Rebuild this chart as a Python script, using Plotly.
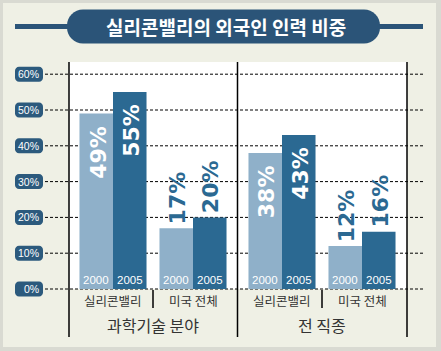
import plotly.graph_objects as go

# ---------------- data ----------------
title_text = "실리콘밸리의 외국인 인력 비중"
sections = ["과학기술 분야", "전 직종"]
subgroups = ["실리콘밸리", "미국 전체"]
years = ["2000", "2005"]
values_2000 = [49, 17, 38, 12]
values_2005 = [55, 20, 43, 16]
y_ticks = [0, 10, 20, 30, 40, 50, 60]
y_tick_labels = ["0%", "10%", "20%", "30%", "40%", "50%", "60%"]

# ---------------- style ----------------
FIG_W, FIG_H = 441, 351
L, R, T, B = 69, 407, 62, 289          # plot-area pixel box
PW, PH = R - L, B - T
PX_PER_UNIT = 80.0
X_START = -0.55
SECTION_GAP = 0.1125
BW = 0.419
YMAX = PH / 3.58

CREAM = "#eff0e5"
BORDER = "#d9dad2"
NAVY = "#2b5478"
PILL = "#2c5a7d"
LIGHT = "#8fb0c9"
DARK = "#2b6992"
TXT = "#333333"
KR = "Noto Sans CJK KR"


def px_x(px):
    return (px - L) / PW


def px_y(py):
    return (B - py) / PH


def val_y(v):
    # value -> paper fraction along the linear y axis [0, YMAX]
    return v / YMAX


def rounded(hw, hh, r):
    k = 0.5523 * r
    f = lambda v: f"{v:.2f}"
    return (f"M {f(-hw + r)},{f(-hh)} L {f(hw - r)},{f(-hh)} "
            f"C {f(hw - r + k)},{f(-hh)} {f(hw)},{f(-hh + r - k)} {f(hw)},{f(-hh + r)} "
            f"L {f(hw)},{f(hh - r)} C {f(hw)},{f(hh - r + k)} {f(hw - r + k)},{f(hh)} {f(hw - r)},{f(hh)} "
            f"L {f(-hw + r)},{f(hh)} C {f(-hw + r - k)},{f(hh)} {f(-hw)},{f(hh - r + k)} {f(-hw)},{f(hh - r)} "
            f"L {f(-hw)},{f(-hh + r)} C {f(-hw)},{f(-hh + r - k)} {f(-hw + r - k)},{f(-hh)} {f(-hw + r)},{f(-hh)} Z")


n_sub = len(subgroups)
x_pos = [s * (n_sub + SECTION_GAP) + i for s in range(len(sections)) for i in range(n_sub)]

fig = go.Figure()
series = [(years[0], values_2000, LIGHT, -BW), (years[1], values_2005, DARK, 0.0)]
for name, vals, col, off in series:
    fig.add_trace(go.Bar(x=x_pos, y=vals, name=name, width=BW, offset=off,
                         marker=dict(color=col, line=dict(width=0)),
                         hoverinfo="skip", showlegend=False))

shapes = []
annotations = []

# outer border
for x0, y0, x1, y1 in [(-2, -2, 3, FIG_H + 2), (-2, -2, FIG_W + 2, 3),
                       (436, -2, FIG_W + 2, FIG_H + 2), (-2, 347, FIG_W + 2, FIG_H + 2)]:
    shapes.append(dict(type="rect", xref="paper", yref="paper",
                       x0=px_x(x0), x1=px_x(x1), y0=px_y(y0), y1=px_y(y1),
                       fillcolor=BORDER, line=dict(width=0), layer="above"))

# title lines + pill
for a, b in [(15, 100), (350, 423)]:
    shapes.append(dict(type="line", xref="paper", yref="paper",
                       x0=px_x(a), x1=px_x(b), y0=px_y(26.5), y1=px_y(26.5),
                       line=dict(color=NAVY, width=5), layer="above"))
shapes.append(dict(type="path", xref="paper", yref="paper",
                   xsizemode="pixel", ysizemode="pixel",
                   xanchor=px_x(223.5), yanchor=px_y(26.5),
                   path=rounded(156.5, 17, 16), fillcolor=NAVY,
                   line=dict(width=0), layer="above"))
annotations.append(dict(text=title_text, xref="paper", yref="paper",
                        x=px_x(226), y=px_y(27), xanchor="center", yanchor="middle",
                        showarrow=False,
                        font=dict(family=KR, size=19, color="white", weight="bold")))

# dashed grid + y pills
for v, lab in zip(y_ticks, y_tick_labels):
    shapes.append(dict(type="line", xref="paper", yref="paper",
                       x0=px_x(45), x1=px_x(425), y0=val_y(v), y1=val_y(v),
                       line=dict(color="black", width=1, dash="3px,2px"), layer="below"))
    shapes.append(dict(type="path", xref="paper", yref="paper",
                       xsizemode="pixel", ysizemode="pixel",
                       xanchor=px_x(29), yanchor=val_y(v),
                       path=rounded(14, 7.5, 4), fillcolor=PILL,
                       line=dict(width=0), layer="above"))
    annotations.append(dict(text=lab, xref="paper", yref="paper", x=px_x(40.5), y=val_y(v),
                            xanchor="right", yanchor="middle", showarrow=False,
                            font=dict(family="Liberation Sans", size=10.5, color="white")))

# vertical lines
mid = (x_pos[n_sub - 1] + x_pos[n_sub]) / 2
for xr, xv in [("paper", 0), ("x", mid), ("paper", 1)]:
    shapes.append(dict(type="line", xref=xr, yref="paper", x0=xv, x1=xv,
                       y0=px_y(62), y1=px_y(337),
                       line=dict(color="black", width=1.5), layer="above"))
for s in range(len(sections)):
    xs = x_pos[s * n_sub:(s + 1) * n_sub]
    sep = (xs[0] + xs[1]) / 2
    shapes.append(dict(type="line", xref="x", yref="paper", x0=sep, x1=sep,
                       y0=px_y(290), y1=px_y(308),
                       line=dict(color="black", width=1.5), layer="above"))
    annotations.append(dict(text=sections[s], xref="x", yref="paper",
                            x=sum(xs) / len(xs), y=px_y(325),
                            xanchor="center", yanchor="middle", showarrow=False,
                            font=dict(family=KR, size=16, color=TXT)))

# category labels
for k, x in enumerate(x_pos):
    annotations.append(dict(text=subgroups[k % n_sub], xref="x", yref="paper",
                            x=x, y=px_y(300), xanchor="center", yanchor="middle",
                            showarrow=False,
                            font=dict(family=KR, size=12.5, color=TXT)))

# value + year labels
for name, vals, col, off in series:
    for k, v in enumerate(vals):
        xc = x_pos[k] + off + BW / 2
        inside = v >= 30
        annotations.append(dict(text=f"{v}%", xref="x", yref="y", x=xc, y=v,
                                textangle=-90, showarrow=False, xshift=1.5,
                                xanchor="center",
                                yanchor="top" if inside else "bottom",
                                yshift=-10 if inside else 2,
                                font=dict(family="DejaVu Sans", size=22, weight="bold",
                                          color="white" if inside else DARK)))
        annotations.append(dict(text=name, xref="x", yref="y", x=xc, y=0,
                                xanchor="center", yanchor="bottom", yshift=1,
                                showarrow=False,
                                font=dict(family="Liberation Sans", size=11.5, color="white")))

fig.update_layout(
    width=FIG_W, height=FIG_H,
    margin=dict(l=L, r=FIG_W - R, t=T, b=FIG_H - B, pad=0),
    paper_bgcolor=CREAM, plot_bgcolor="white",
    barmode="overlay",
    xaxis=dict(range=[X_START, X_START + PW / PX_PER_UNIT], visible=False, fixedrange=True),
    yaxis=dict(range=[0, YMAX], visible=False, fixedrange=True),
    shapes=shapes, annotations=annotations, showlegend=False,
)

fig.write_html("out.html")
